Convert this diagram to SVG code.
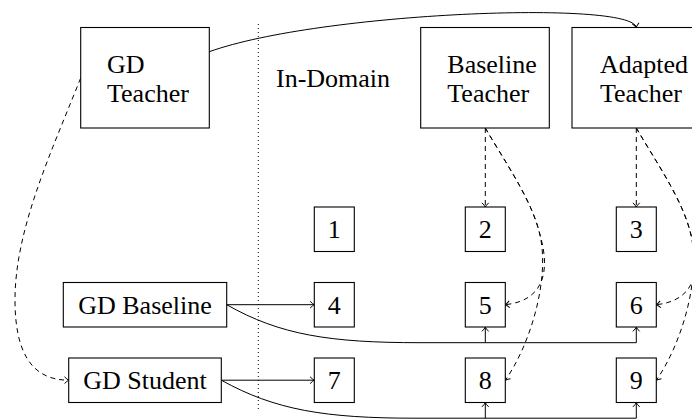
<svg xmlns="http://www.w3.org/2000/svg" width="692" height="420" viewBox="0 0 692 420">
<style>
.box{fill:#fff;stroke:#000;stroke-width:1.1}
text{font-family:"Liberation Serif","Times New Roman",serif;font-size:26px;fill:#000}
.num{text-anchor:middle}
.c{fill:none;stroke:#000;stroke-width:1}
.d{stroke-dasharray:5 4}
.arr{marker-end:url(#ah)}
</style>
<defs>
<marker id="ah" markerUnits="userSpaceOnUse" markerWidth="12" markerHeight="12" viewBox="-6 -6 12 12" refX="0" refY="0" orient="auto" overflow="visible">
<path d="M-4.2,-3.4 Q-1.5,-0.7 0,0 Q-1.5,0.7 -4.2,3.4" fill="none" stroke="#000" stroke-width="1"/>
</marker>
</defs>
<rect width="692" height="420" fill="#fff"/>
<line x1="258.3" y1="24" x2="258.3" y2="410" stroke="#000" stroke-width="1" stroke-dasharray="1 3"/>
<text x="276" y="87">In-Domain</text>
<g id="connectors">
<path class="c arr" d="M209.3,51.7 C320,12 632,0 636.3,27.5"/>
<path class="c d arr" d="M80.7,78 C50,155 15,230 15,300 C15,350 30,380.2 68.7,380.2"/>
<path class="c d arr" d="M485.3,128 V207"/>
<path class="c d arr" d="M636.3,128 V207"/>
<path class="c d arr" d="M485.3,128 C505,162 532,200 540,235 C548,262 550,300 505.3,304.7"/>
<path class="c d arr" d="M485.3,128 C505,162 532,200 540,235 C550,280 530,345 505.3,380.2"/>
<path class="c d arr" d="M636.3,128 C656,162 683,200 691,235 C699,262 701,300 656.3,304.7"/>
<path class="c d arr" d="M636.3,128 C656,162 683,200 691,235 C701,280 681,345 656.3,380.2"/>
<path class="c arr" d="M226.7,304.7 H314.3"/>
<path class="c arr" d="M221.3,380.2 H314.3"/>
<path class="c arr" d="M226.7,304.7 C280,335 330,342.7 420,342.7 H636.3 V327.2"/>
<path class="c arr" d="M485.3,342.7 V327.2"/>
<path class="c arr" d="M221.3,380.2 C275,410 325,418.2 415,418.2 H636.3 V402.7"/>
<path class="c arr" d="M485.3,418.2 V402.7"/>
</g>
<g id="gd-teacher">
<rect class="box" x="80.7" y="27.5" width="128.6" height="100.5"/>
<text x="107" y="72.5">GD</text>
<text x="107" y="101.5">Teacher</text>
</g>
<g id="baseline-teacher">
<rect class="box" x="420.7" y="27.5" width="128.6" height="100.5"/>
<text x="447.3" y="72.5">Baseline</text>
<text x="447.3" y="101.5">Teacher</text>
</g>
<g id="adapted-teacher">
<rect class="box" x="572" y="27.5" width="128.6" height="100.5"/>
<text x="600" y="72.5">Adapted</text>
<text x="600" y="101.5">Teacher</text>
</g>
<g id="gd-baseline">
<rect class="box" x="63.3" y="282.5" width="163.4" height="44.5"/>
<text class="num" x="145" y="313.5">GD Baseline</text>
</g>
<g id="gd-student">
<rect class="box" x="68.7" y="358" width="152.6" height="44.5"/>
<text class="num" x="145" y="389">GD Student</text>
</g>
<g id="n1"><rect class="box" x="314.3" y="207" width="40" height="44.5"/><text class="num" x="334.3" y="238">1</text></g>
<g id="n2"><rect class="box" x="465.3" y="207" width="40" height="44.5"/><text class="num" x="485.3" y="238">2</text></g>
<g id="n3"><rect class="box" x="616.3" y="207" width="40" height="44.5"/><text class="num" x="636.3" y="238">3</text></g>
<g id="n4"><rect class="box" x="314.3" y="282.5" width="40" height="44.5"/><text class="num" x="334.3" y="313.5">4</text></g>
<g id="n5"><rect class="box" x="465.3" y="282.5" width="40" height="44.5"/><text class="num" x="485.3" y="313.5">5</text></g>
<g id="n6"><rect class="box" x="616.3" y="282.5" width="40" height="44.5"/><text class="num" x="636.3" y="313.5">6</text></g>
<g id="n7"><rect class="box" x="314.3" y="358" width="40" height="44.5"/><text class="num" x="334.3" y="389">7</text></g>
<g id="n8"><rect class="box" x="465.3" y="358" width="40" height="44.5"/><text class="num" x="485.3" y="389">8</text></g>
<g id="n9"><rect class="box" x="616.3" y="358" width="40" height="44.5"/><text class="num" x="636.3" y="389">9</text></g>
</svg>
